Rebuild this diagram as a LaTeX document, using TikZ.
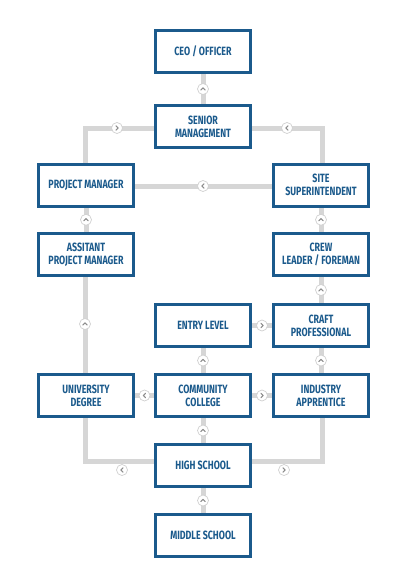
\documentclass[tikz,border=0pt]{standalone}
\usepackage{fontspec}
\setmainfont{Fira Sans}[FakeStretch=0.74]
\usetikzlibrary{calc,backgrounds}
\definecolor{boxblue}{HTML}{1B5A8C}
\definecolor{linegray}{HTML}{D6D6D6}
\definecolor{chevgray}{HTML}{8C8C8C}
\definecolor{ringgray}{HTML}{D0D0D0}
\tikzset{
  box/.style={rectangle, draw=boxblue, line width=3pt, fill=white,
    minimum width=95pt, minimum height=42pt, inner sep=0pt, align=center,
    text=boxblue, font=\fontsize{12}{13}\selectfont\bfseries},
  conn/.style={draw=linegray, line width=5pt, line join=miter},
  ring/.style={circle, draw=ringgray, line width=0.7pt, fill=white, minimum size=11pt, inner sep=0pt},
  chev/.style={draw=chevgray, line width=1.1pt, line cap=round, line join=round},
  pics/up/.style={code={\draw[chev] (-2.3,1.1) -- (0,-1.2) -- (2.3,1.1);}},
  pics/left/.style={code={\draw[chev] (1.1,-2.3) -- (-1.2,0) -- (1.1,2.3);}},
  pics/right/.style={code={\draw[chev] (-1.1,-2.3) -- (1.2,0) -- (-1.1,2.3);}},
}
\newcommand{\mk}[3]{\node[ring] (#1) at #2 {}; \pic at (#1) {#3};}
\begin{document}
\begin{tikzpicture}[x=1pt,y=-1pt]
\useasboundingbox (0,0) rectangle (404,581);
% boxes
\node[box] (ceo)  at (203,51.5)  {CEO / OFFICER};
\node[box] (sen)  at (203,126.5) {SENIOR\\MANAGEMENT};
\node[box] (pm)   at (86,185)    {PROJECT MANAGER};
\node[box] (site) at (321,185)   {SITE\\SUPERINTENDENT};
\node[box] (apm)  at (86,254.5)  {ASSITANT\\PROJECT MANAGER};
\node[box] (crew) at (321,254.5) {CREW\\LEADER / FOREMAN};
\node[box] (entry) at (203,325.5) {ENTRY LEVEL};
\node[box] (craft) at (321,325.5) {CRAFT\\PROFESSIONAL};
\node[box] (univ) at (86,395.5)  {UNIVERSITY\\DEGREE};
\node[box] (cc)   at (203,395.5) {COMMUNITY\\COLLEGE};
\node[box] (ind)  at (321,395.5) {INDUSTRY\\APPRENTICE};
\node[box] (hs)   at (203,465.5) {HIGH SCHOOL};
\node[box] (ms)   at (203,535.5) {MIDDLE SCHOOL};
\begin{pgfonlayer}{background}
\draw[conn] (ceo) -- (sen);
\draw[conn] ([yshift=-1.5pt]sen.west) -| ([xshift=-1pt]pm.north);
\draw[conn] ([yshift=-1.5pt]sen.east) -| ([xshift=1pt]site.north);
\draw[conn] ([yshift=-1pt]pm.east) -- ([yshift=-1pt]site.west);
\draw[conn] (pm) -- (apm);
\draw[conn] (site) -- (crew);
\draw[conn] ([xshift=-1pt]apm.south) -- ([xshift=-1pt]univ.north);
\draw[conn] (crew) -- (craft);
\draw[conn] (entry) -- (craft);
\draw[conn] (cc) -- (entry);
\draw[conn] (ind) -- (craft);
\draw[conn] (univ) -- (cc);
\draw[conn] (cc) -- (ind);
\draw[conn] (hs) -- (cc);
\draw[conn] (ms) -- (hs);
\draw[conn] ([yshift=4.5pt]hs.west) -| ([xshift=-1pt]univ.south);
\draw[conn] ([yshift=4.5pt]hs.east) -| ([xshift=1pt]ind.south);
\end{pgfonlayer}
% markers
\mk{m1}{($(ceo.south)!0.5!(sen.north)$)}{up}
\mk{m2}{(117,128)}{right}
\mk{m3}{(287,128)}{left}
\mk{m4}{(203,186)}{left}
\mk{m5}{($(pm.south)!0.5!(apm.north)$)}{up}
\mk{m6}{($(site.south)!0.5!(crew.north)$)}{up}
\mk{m7}{(85,324)}{up}
\mk{m8}{($(crew.south)!0.5!(craft.north)$)}{up}
\mk{m9}{($(entry.east)!0.5!(craft.west)$)}{right}
\mk{m10}{($(cc.north)!0.5!(entry.south)$)}{up}
\mk{m11}{($(ind.north)!0.5!(craft.south)$)}{up}
\mk{m12}{($(univ.east)!0.5!(cc.west)$)}{left}
\mk{m13}{($(cc.east)!0.5!(ind.west)$)}{right}
\mk{m14}{($(hs.north)!0.5!(cc.south)$)}{up}
\mk{m15}{(122,470)}{left}
\mk{m16}{(284,470)}{right}
\mk{m17}{($(ms.north)!0.5!(hs.south)$)}{up}
\end{tikzpicture}
\end{document}
